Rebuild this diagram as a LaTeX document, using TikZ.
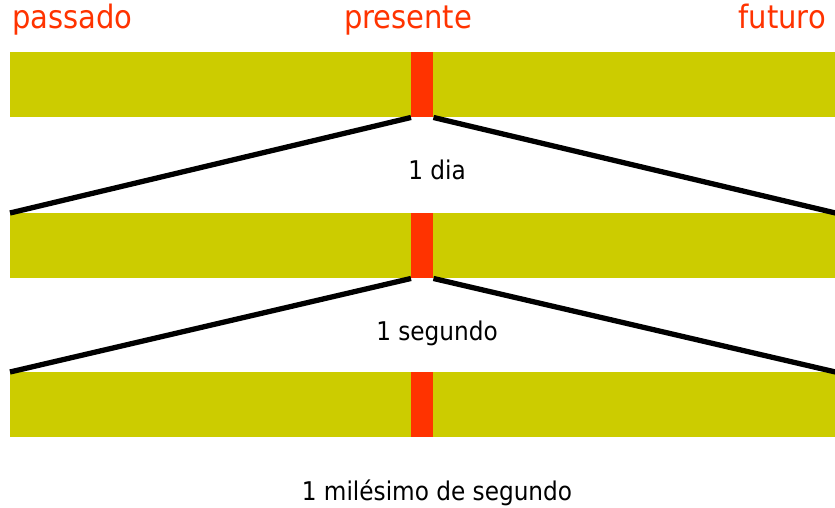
\documentclass[tikz,border=0pt]{standalone}
\usepackage{fontspec}
\setmainfont{DejaVu Sans Condensed}
\usetikzlibrary{positioning}
\definecolor{oliva}{RGB}{204,204,0}
\definecolor{vermelho}{RGB}{255,51,0}
\tikzset{barra/.style={fill=oliva, inner sep=0pt, minimum width=24.75cm, minimum height=1.95cm, anchor=north west},
         agora/.style={fill=vermelho, inner sep=0pt, minimum width=0.66cm, minimum height=1.95cm, anchor=north west},
         corte/.style={line width=4.5pt, black},
         rotulo/.style={text=vermelho, font=\fontsize{27.5}{32}\selectfont, inner sep=0pt},
         escala/.style={font=\fontsize{22}{26}\selectfont, inner sep=0pt, anchor=base}}
\newcommand{\linhatempo}[2]{\node[barra] (b#1) at (10,#2) {};
        			\node[agora] (a#1) at (411,#2) {};}

\begin{document}
\begin{tikzpicture}[x=0.03cm, y=-0.03cm]
					\useasboundingbox (0,0) rectangle (835,508);

					% as tres linhas do tempo
					\linhatempo{1}{52}
					\linhatempo{2}{213}
					\linhatempo{3}{372}

					\node[rotulo, anchor=base west] (passado) at (12,29) {passado};
					\node[rotulo, anchor=base] (presente) at (408,29) {presente};
					\node[rotulo, anchor=base east] (futuro) at (826,29) {futuro};

					% ampliacoes
					\draw[corte] (a1.south west) -- (b2.north west);
					\draw[corte] (a1.south east) -- (b2.north east);
					\draw[corte] (a2.south west) -- (b3.north west);
					\draw[corte] (a2.south east) -- (b3.north east);

					\node[escala] (dia) at (437,180) {1 dia};
					\node[escala] (segundo) at (437,340) {1 segundo};
					\node[escala] (milesimo) at (437,500) {1 milésimo de segundo};

				\end{tikzpicture}
\end{document}
